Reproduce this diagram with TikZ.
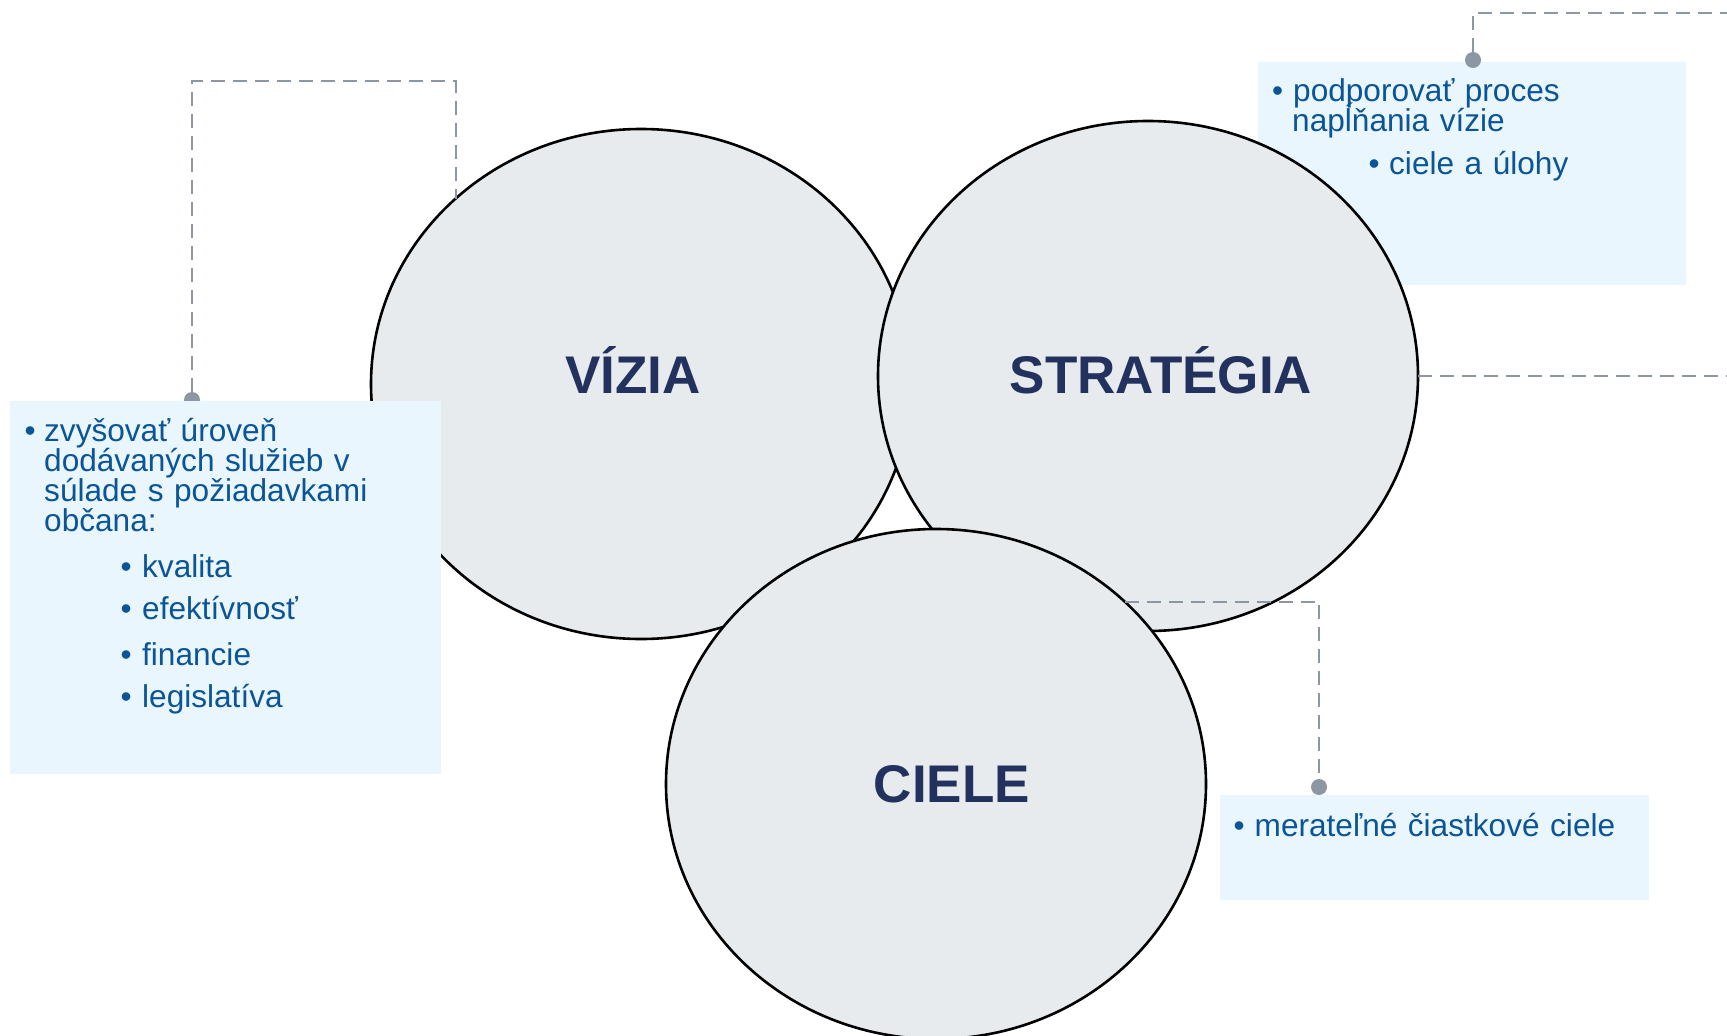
\documentclass[tikz,border=0pt]{standalone}
\usepackage{fontspec}
\setmainfont{Liberation Sans}
\usetikzlibrary{shapes.geometric}

\definecolor{circfill}{HTML}{E7EBEE}
\definecolor{boxfill}{HTML}{EAF6FE}
\definecolor{txtblue}{HTML}{0B5596}
\definecolor{navy}{HTML}{22315E}
\definecolor{dashgray}{HTML}{8C97A3}
\newcommand{\bul}[1]{\makebox[#1][l]{•}}

\begin{document}
\begin{tikzpicture}[x=1pt, y=-1pt,
  circ/.style={ellipse, draw=black, line width=2.6pt, fill=circfill,
    minimum width=540pt, minimum height=510pt, inner sep=0pt, outer sep=0pt},
  lbl/.style={anchor=base, text=navy, font=\fontsize{53}{60}\selectfont\bfseries},
  box/.style={rectangle, fill=boxfill, anchor=north west, inner sep=0pt, outer sep=0pt},
  txt/.style={anchor=base west, text=txtblue, inner sep=0pt, text width=420pt,
    align=left, font=\fontsize{31.6}{30}\selectfont},
  conn/.style={draw=dashgray, line width=2pt, dash pattern=on 14pt off 8pt},
  pin/.style={circle, fill=dashgray, inner sep=0pt, minimum size=16pt},
]
  \useasboundingbox (0,0) rectangle (1727,1036);

  % box behind STRATEGIA
  \node[box, minimum width=428pt, minimum height=223pt] (tbox) at (1258,62) {};

  % the three circles
  \node[circ] (vizia) at (641,384) {};
  \node[circ] (strat) at (1148,376) {};
  \node[circ] (ciele) at (936,784) {};
  \node[lbl] (vizial) at (633,393) {VÍZIA};
  \node[lbl] (stratl) at (1161,393) {STRATÉGIA};
  \node[lbl] (cielel) at (952,802) {CIELE};

  % connectors
  \coordinate (tend) at (1730,13);
  \coordinate (send) at (1730,376);
  \node[pin] (lpin) at (192,400) {};
  \draw[conn] (lpin) -- ++(0,-319) -| (vizia.135.5);
  \draw[conn] (strat.east) -- (send);

  % text boxes
  \node[box, minimum width=431pt, minimum height=373pt] (lbox) at (10,401) {};
  \node[box, minimum width=429pt, minimum height=105pt] (cbox) at (1220,795) {};

  \node[pin] (tpin) at (1473,60) {};
  \node[pin] (cpin) at (1319,787) {};
  \draw[conn] (tpin) |- (tend);
  \draw[conn] (ciele.44) -| (cpin);

  \node[txt] (ltext) at (24.5,441) {\bul{19.5pt}zvyšovať úroveň\\
    \hspace*{19.5pt}dodávaných služieb v\\
    \hspace*{19.5pt}súlade s požiadavkami\\
    \hspace*{19.5pt}občana:\\[16pt]
    \hspace*{96pt}\bul{21.5pt}kvalita\\[12pt]
    \hspace*{96pt}\bul{21.5pt}efektívnosť\\[16pt]
    \hspace*{96pt}\bul{21.5pt}financie\\[12pt]
    \hspace*{96pt}\bul{21.5pt}legislatíva};
  \node[txt] (ttext) at (1272,101) {\bul{21pt}podporovať proces\\
    \hspace*{20pt}\smash{napĺňania vízie}\\[13pt]
    \hspace*{96.5pt}\bul{20.5pt}ciele a úlohy};
  \node[txt] (ctext) at (1233.5,836) {\bul{21pt}merateľné čiastkové ciele};
\end{tikzpicture}
\end{document}
